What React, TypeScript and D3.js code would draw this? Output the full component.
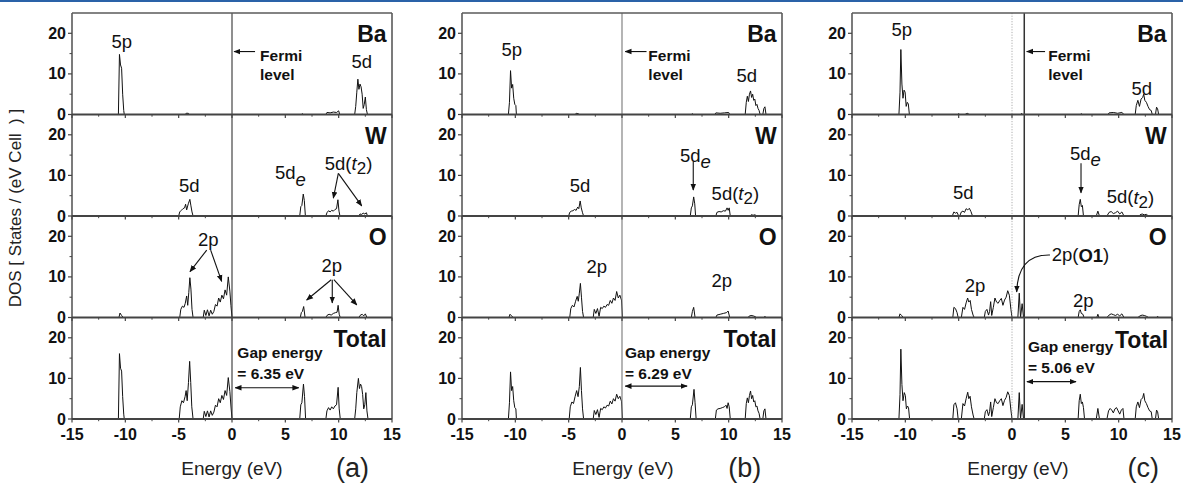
import React from 'react';
import * as d3 from 'd3';

// Energy (eV), DOS pairs. Panel (a)
const baA: [number, number][] = [
  [-15, 0], [-10.65, 0], [-10.55, 14.8], [-10.45, 12.2], [-10.35, 11.4], [-10.25, 5], [-10.15, 1], [-10.1, 0],
  [-4.4, 0], [-4.3, 0.3], [-4.1, 0.3], [-4.0, 0],
  [6.5, 0], [6.6, 0.2], [6.7, 0],
  [8.8, 0], [8.9, 0.5], [9.2, 0.4], [9.5, 0.6], [9.8, 0.5], [10.0, 0.9], [10.1, 0],
  [11.5, 0], [11.6, 2], [11.7, 5.5], [11.8, 8.7], [11.9, 6.2], [12.0, 7.5], [12.1, 6.8], [12.2, 5], [12.3, 1.5],
  [12.4, 2.5], [12.5, 4.3], [12.6, 1.2], [12.7, 0], [15, 0],
];
const wA: [number, number][] = [
  [-15, 0], [-5.0, 0], [-4.9, 1], [-4.75, 1.4], [-4.6, 1.8], [-4.45, 2.0], [-4.35, 2.9], [-4.25, 1.5], [-4.1, 3],
  [-3.95, 4.1], [-3.85, 2.5], [-3.75, 1], [-3.65, 0],
  [6.35, 0], [6.45, 2.3], [6.55, 2.6], [6.68, 5.4], [6.78, 3.8], [6.88, 0],
  [8.8, 0], [8.9, 0.8], [9.05, 1.3], [9.2, 1.0], [9.35, 1.4], [9.5, 1.2], [9.65, 1.6], [9.8, 1.8], [9.93, 4.0],
  [10.03, 1.2], [10.12, 0],
  [11.9, 0], [12.0, 0.5], [12.15, 0.4], [12.3, 0.7], [12.45, 0.5], [12.6, 0.8], [12.7, 0], [15, 0],
];
const oA: [number, number][] = [
  [-15, 0], [-10.6, 0], [-10.5, 1.1], [-10.35, 0.5], [-10.2, 0],
  [-4.9, 0], [-4.8, 2], [-4.65, 2.8], [-4.5, 2.5], [-4.38, 3.5], [-4.25, 5.3], [-4.15, 3], [-4.05, 6.2], [-3.95, 9.8],
  [-3.85, 7], [-3.75, 2], [-3.65, 0],
  [-2.7, 0], [-2.6, 1.8], [-2.45, 0.5], [-2.3, 1.9], [-2.15, 0.4], [-2.0, 1.8], [-1.85, 0.8], [-1.7, 1.5], [-1.55, 3.2],
  [-1.4, 2.8], [-1.25, 4.8], [-1.1, 3.8], [-0.95, 5.5], [-0.8, 4.6], [-0.65, 6.8], [-0.5, 5.5], [-0.35, 10],
  [-0.2, 6.5], [-0.1, 3], [0, 0],
  [6.4, 0], [6.5, 1.2], [6.6, 1.5], [6.72, 2.7], [6.85, 0],
  [8.8, 0], [8.9, 0.5], [9.1, 0.8], [9.3, 0.6], [9.5, 1], [9.7, 1.2], [9.85, 1.3], [9.95, 3], [10.05, 0.8], [10.15, 0],
  [11.9, 0], [12.0, 0.5], [12.2, 0.8], [12.35, 0.4], [12.5, 0.9], [12.65, 0], [15, 0],
];
const totalA: [number, number][] = [
  [-15, 0], [-10.65, 0], [-10.55, 16.1], [-10.45, 12.5], [-10.35, 11.8], [-10.25, 5.5], [-10.15, 1.2], [-10.1, 0],
  [-4.95, 0], [-4.85, 3], [-4.7, 4.5], [-4.55, 4], [-4.4, 5.5], [-4.3, 7], [-4.2, 4.5], [-4.08, 9], [-3.97, 14.2],
  [-3.87, 9], [-3.77, 3], [-3.65, 0],
  [-2.7, 0], [-2.6, 1.9], [-2.45, 0.6], [-2.3, 2], [-2.15, 0.5], [-2.0, 2], [-1.85, 0.9], [-1.7, 1.7], [-1.55, 3.4],
  [-1.4, 3], [-1.25, 5], [-1.1, 4], [-0.95, 5.8], [-0.8, 4.8], [-0.65, 7], [-0.5, 5.8], [-0.35, 10.2], [-0.2, 6.8],
  [-0.1, 3.2], [0, 0],
  [6.35, 0], [6.45, 3.5], [6.55, 4], [6.7, 8.6], [6.8, 5.5], [6.9, 0],
  [8.8, 0], [8.9, 2], [9.05, 2.8], [9.2, 2.2], [9.35, 3], [9.5, 2.5], [9.65, 3.2], [9.8, 3.5], [9.95, 7.8], [10.05, 2.5],
  [10.15, 0],
  [11.5, 0], [11.6, 2.5], [11.7, 6.5], [11.85, 10], [11.95, 7.5], [12.05, 8.6], [12.15, 8], [12.25, 6], [12.35, 2.5],
  [12.45, 3.5], [12.55, 6.5], [12.65, 2], [12.75, 0], [15, 0],
];

// Panel (b)
const baB: [number, number][] = [
  [-15, 0], [-10.65, 0], [-10.55, 3], [-10.45, 10.8], [-10.35, 6.5], [-10.25, 7.4], [-10.15, 4], [-10.05, 2.5],
  [-9.95, 2.2], [-9.9, 0],
  [-4.4, 0], [-4.3, 0.3], [-4.1, 0.2], [-4.0, 0],
  [6.5, 0], [6.6, 0.2], [6.7, 0],
  [8.7, 0], [8.8, 0.4], [9.2, 0.3], [9.6, 0.4], [10.0, 0.5], [10.1, 0],
  [11.55, 0], [11.65, 3], [11.75, 4.5], [11.85, 3.2], [11.95, 5], [12.05, 5.8], [12.15, 4.2], [12.25, 5], [12.35, 3.5],
  [12.45, 3.8], [12.55, 2.2], [12.65, 2.5], [12.75, 1.5], [12.85, 1], [12.95, 0],
  [13.2, 0], [13.3, 1.5], [13.4, 1.9], [13.5, 0], [15, 0],
];
const wB: [number, number][] = [
  [-15, 0], [-5.0, 0], [-4.9, 0.9], [-4.75, 1.2], [-4.6, 1.3], [-4.45, 1.6], [-4.3, 1.4], [-4.15, 2.2], [-4.05, 1.8],
  [-3.92, 3.7], [-3.82, 2], [-3.7, 0.8], [-3.6, 0],
  [6.4, 0], [6.5, 2], [6.6, 2.5], [6.72, 4.7], [6.82, 3], [6.9, 0],
  [8.8, 0], [8.9, 0.9], [9.1, 1.1], [9.3, 1], [9.5, 1.3], [9.7, 1.2], [9.85, 2], [9.95, 1.4], [10.05, 2], [10.15, 0],
  [12.0, 0], [12.1, 0.3], [12.3, 0.2], [12.5, 0.3], [12.6, 0], [15, 0],
];
const oB: [number, number][] = [
  [-15, 0], [-10.6, 0], [-10.5, 0.8], [-10.35, 0.4], [-10.2, 0],
  [-4.9, 0], [-4.8, 2.2], [-4.65, 3], [-4.5, 2.6], [-4.35, 4], [-4.2, 5.2], [-4.1, 4], [-4.0, 6], [-3.9, 8.4],
  [-3.8, 5], [-3.7, 1.5], [-3.6, 0],
  [-2.7, 0], [-2.6, 2], [-2.45, 1], [-2.3, 2.2], [-2.15, 0.3], [-2.0, 2.5], [-1.85, 2.2], [-1.7, 2.8], [-1.55, 2.5],
  [-1.4, 3.2], [-1.25, 3], [-1.1, 4.2], [-0.95, 3.5], [-0.8, 4.8], [-0.65, 4.2], [-0.5, 6.4], [-0.35, 4.8],
  [-0.2, 5.5], [-0.05, 4.3], [0.05, 0],
  [6.5, 0], [6.6, 1.5], [6.72, 2.5], [6.85, 0],
  [8.8, 0], [8.9, 0.6], [9.2, 0.8], [9.5, 1], [9.8, 1.2], [9.95, 1.6], [10.1, 0],
  [11.8, 0], [11.9, 0.3], [12.1, 0.5], [12.3, 0.4], [12.5, 0.2], [12.6, 0],
  [13.3, 0], [13.4, 0.3], [13.5, 0], [15, 0],
];
const totalB: [number, number][] = [
  [-15, 0], [-10.65, 0], [-10.55, 4], [-10.45, 11.6], [-10.35, 7], [-10.25, 8], [-10.15, 4.5], [-10.05, 2.8],
  [-9.95, 2.5], [-9.9, 0],
  [-4.95, 0], [-4.85, 3], [-4.7, 4.2], [-4.55, 3.8], [-4.4, 5.5], [-4.25, 7], [-4.12, 5.5], [-4.0, 8], [-3.9, 12.7],
  [-3.8, 7], [-3.7, 2.5], [-3.6, 0],
  [-2.7, 0], [-2.6, 2.1], [-2.45, 1.1], [-2.3, 2.3], [-2.15, 0.4], [-2.0, 2.6], [-1.85, 2.3], [-1.7, 3], [-1.55, 2.7],
  [-1.4, 3.4], [-1.25, 3.2], [-1.1, 4.4], [-0.95, 3.7], [-0.8, 5], [-0.65, 4.4], [-0.5, 6.1], [-0.35, 5],
  [-0.2, 5.6], [-0.05, 4.4], [0.05, 0],
  [6.4, 0], [6.5, 3], [6.6, 3.5], [6.75, 7.3], [6.85, 4], [6.95, 0],
  [8.75, 0], [8.85, 2.2], [9.0, 2.5], [9.2, 2.6], [9.4, 2.8], [9.6, 3], [9.75, 3.4], [9.85, 2.6], [9.95, 4], [10.05, 3],
  [10.15, 0],
  [11.55, 0], [11.65, 3.8], [11.75, 5.2], [11.85, 4], [11.95, 5.8], [12.05, 6.9], [12.15, 5], [12.25, 5.8],
  [12.35, 4.2], [12.45, 4.5], [12.55, 3], [12.65, 3.2], [12.75, 2], [12.85, 1.4], [12.95, 0],
  [13.2, 0], [13.3, 2], [13.4, 2.5], [13.5, 0], [15, 0],
];

// Panel (c)
const baC: [number, number][] = [
  [-15, 0], [-10.6, 0], [-10.5, 5.5], [-10.42, 16], [-10.32, 7.5], [-10.22, 4], [-10.12, 6], [-10.02, 5.5],
  [-9.92, 2], [-9.82, 3], [-9.72, 2.6], [-9.62, 0],
  [-5.1, 0], [-5.0, 0.2], [-4.9, 0],
  [-4.4, 0], [-4.2, 0.3], [-4.0, 0],
  [0.8, 0], [0.9, 0.3], [1.0, 0],
  [6.4, 0], [6.5, 0.2], [6.6, 0],
  [9.0, 0], [9.1, 0.4], [9.5, 0.5], [9.9, 0.3], [10.3, 0.5], [10.5, 0],
  [11.55, 0], [11.65, 2.2], [11.8, 3.5], [11.95, 2], [12.1, 3.8], [12.25, 4.2], [12.35, 5], [12.45, 3.5], [12.6, 3],
  [12.75, 2], [12.9, 1.2], [13.05, 1], [13.15, 0],
  [13.45, 0], [13.55, 1.8], [13.65, 1.4], [13.75, 0], [15, 0],
];
const wC: [number, number][] = [
  [-15, 0], [-5.6, 0], [-5.45, 1], [-5.3, 0.7], [-5.15, 0.9], [-5.0, 0],
  [-4.9, 0], [-4.75, 1], [-4.6, 1.2], [-4.45, 0.9], [-4.3, 1.8], [-4.15, 1.5], [-4.0, 1.9], [-3.85, 1.1], [-3.7, 0],
  [6.2, 0], [6.3, 2.8], [6.4, 4.1], [6.5, 2.3], [6.6, 2.6], [6.7, 0],
  [7.9, 0], [8.05, 1.2], [8.2, 0],
  [8.9, 0], [9.1, 0.9], [9.3, 1.1], [9.5, 0.6], [9.7, 0.8], [9.9, 1.2], [10.1, 0.5], [10.3, 1], [10.5, 0],
  [11.9, 0], [12.0, 0.3], [12.2, 0.5], [12.4, 0.3], [12.6, 0.4], [12.8, 0], [15, 0],
];
const oC: [number, number][] = [
  [-15, 0], [-10.6, 0], [-10.5, 0.9], [-10.35, 0.5], [-10.2, 0],
  [-5.55, 0], [-5.45, 2.5], [-5.3, 2.2], [-5.15, 1.2], [-5.05, 0],
  [-4.75, 0], [-4.6, 2.5], [-4.45, 2], [-4.3, 3.6], [-4.16, 4.8], [-4.05, 3.8], [-3.92, 4.2], [-3.8, 2], [-3.65, 0.6],
  [-3.55, 0],
  [-2.6, 0], [-2.5, 1.5], [-2.35, 2], [-2.2, 0.6], [-2.1, 1.5], [-2.0, 3.9], [-1.9, 0.5], [-1.75, 2.5], [-1.6, 4.8],
  [-1.45, 3.8], [-1.3, 3.5], [-1.15, 4.2], [-1.0, 4.7], [-0.85, 3], [-0.7, 4.3], [-0.55, 5], [-0.4, 6.6],
  [-0.25, 5.5], [-0.1, 2], [0.0, 0],
  [0.55, 0], [0.68, 6], [0.8, 0], [0.95, 3.4], [1.08, 0],
  [6.2, 0], [6.3, 1.5], [6.4, 1.9], [6.5, 1], [6.65, 0.8], [6.75, 0],
  [7.95, 0], [8.05, 0.8], [8.15, 0],
  [8.9, 0], [9.1, 0.6], [9.3, 0.9], [9.5, 0.7], [9.7, 0.5], [9.9, 0.8], [10.1, 0.4], [10.3, 0.9], [10.5, 0],
  [11.8, 0], [12.0, 0.4], [12.2, 0.6], [12.4, 0.5], [12.6, 0.3], [12.8, 0],
  [13.55, 0], [13.65, 0.3], [13.75, 0], [15, 0],
];
const totalC: [number, number][] = [
  [-15, 0], [-10.6, 0], [-10.5, 6], [-10.42, 17.2], [-10.32, 8.5], [-10.22, 4.5], [-10.1, 6.5], [-10.0, 5.8],
  [-9.9, 2.5], [-9.8, 3.2], [-9.7, 2.8], [-9.6, 0],
  [-5.55, 0], [-5.45, 3.5], [-5.3, 4], [-5.15, 2.5], [-5.05, 0],
  [-4.75, 0], [-4.6, 3.8], [-4.45, 3.2], [-4.3, 5], [-4.15, 6.6], [-4.05, 5], [-3.93, 5.6], [-3.8, 3], [-3.65, 1],
  [-3.55, 0],
  [-2.6, 0], [-2.5, 1.8], [-2.35, 2.3], [-2.2, 0.8], [-2.1, 1.8], [-2.0, 4.2], [-1.9, 0.6], [-1.75, 2.8], [-1.6, 5],
  [-1.45, 4], [-1.3, 3.8], [-1.15, 4.5], [-1.0, 5], [-0.85, 3.3], [-0.7, 4.6], [-0.55, 5.3], [-0.4, 6.7],
  [-0.25, 5.8], [-0.1, 2.2], [0.0, 0],
  [0.55, 0], [0.68, 6.5], [0.8, 0], [0.95, 3.6], [1.08, 0],
  [6.2, 0], [6.3, 4.5], [6.4, 6.1], [6.5, 3.8], [6.6, 4.2], [6.7, 2.8], [6.8, 0],
  [7.9, 0], [8.05, 2.6], [8.2, 0],
  [8.9, 0], [9.05, 2], [9.2, 2.6], [9.35, 2.2], [9.5, 1.5], [9.65, 2.5], [9.8, 2.8], [9.95, 2], [10.1, 1.2],
  [10.25, 2.2], [10.4, 2.6], [10.5, 0],
  [11.55, 0], [11.65, 3], [11.8, 4.2], [11.95, 2.8], [12.1, 4.8], [12.25, 5.2], [12.35, 6.3], [12.45, 4.5], [12.6, 3.8],
  [12.75, 2.8], [12.9, 2], [13.05, 1.8], [13.15, 0],
  [13.45, 0], [13.55, 2.2], [13.65, 1.8], [13.75, 0], [15, 0],
];

const rowNames = ['Ba', 'W', 'O', 'Total'];
const energyTicks = [-15, -10, -5, 0, 5, 10, 15];
const energyMinor = [-12.5, -7.5, -2.5, 2.5, 7.5, 12.5];
const dosTicks = [0, 10, 20];
const dosMinor = [5, 15];
const panelTags = ['(a)', '(b)', '(c)'];
const gapLabels = ['= 6.35 eV', '= 6.29 eV', '= 5.06 eV'];
const fermiLevels = [0, 0, 1.15];

type Lbl = { r: number; e: number; v: number; t: string; kind?: string };
type Arr = { r: number; e1: number; v1: number; e2: number; v2: number };

const labelsA: Lbl[] = [
  { r: 0, e: -10.34, v: 17.9, t: '5p' }, { r: 0, e: 12.16, v: 13, t: '5d' },
  { r: 1, e: -4.0, v: 7.6, t: '5d' }, { r: 1, e: 4.03, v: 10.6, t: '', kind: 'de' },
  { r: 1, e: 8.7, v: 13, t: '', kind: 'dt2' },
  { r: 2, e: -2.22, v: 19.1, t: '2p' }, { r: 2, e: 9.35, v: 12.9, t: '2p' },
];
const labelsB: Lbl[] = [
  { r: 0, e: -10.34, v: 15.9, t: '5p' }, { r: 0, e: 11.7, v: 9.7, t: '5d' },
  { r: 1, e: -3.94, v: 7.6, t: '5d' }, { r: 1, e: 5.44, v: 15, t: '', kind: 'de' },
  { r: 1, e: 8.4, v: 5.6, t: '', kind: 'dt2' },
  { r: 2, e: -2.37, v: 12.5, t: '2p' }, { r: 2, e: 9.35, v: 9.2, t: '2p' },
];
const labelsC: Lbl[] = [
  { r: 0, e: -10.34, v: 21, t: '5p' }, { r: 0, e: 12.16, v: 6.5, t: '5d' },
  { r: 1, e: -4.57, v: 5.7, t: '5d' }, { r: 1, e: 5.44, v: 15.5, t: '', kind: 'de' },
  { r: 1, e: 8.88, v: 4.75, t: '', kind: 'dt2' },
  { r: 2, e: 3.72, v: 15.4, t: '', kind: 'o1' },
  { r: 2, e: -3.47, v: 8.0, t: '2p' }, { r: 2, e: 6.68, v: 4.3, t: '2p' },
];
const arrowsA: Arr[] = [
  { r: 1, e1: 9.97, v1: 10.5, e2: 9.5, v2: 4.4 }, { r: 1, e1: 9.97, v1: 10.5, e2: 12.16, v2: 2.5 },
  { r: 2, e1: -2.37, v1: 16.6, e2: -3.94, v2: 11.3 }, { r: 2, e1: -2.0, v1: 16.6, e2: -0.97, v2: 8.9 },
  { r: 2, e1: 9.3, v1: 9.3, e2: 7.0, v2: 4.3 }, { r: 2, e1: 9.4, v1: 9.3, e2: 9.4, v2: 3.6 },
  { r: 2, e1: 9.55, v1: 9.3, e2: 11.7, v2: 3.1 },
];
const arrowsB: Arr[] = [{ r: 1, e1: 6.68, v1: 13.4, e2: 6.68, v2: 6.4 }];
const arrowsC: Arr[] = [{ r: 1, e1: 6.47, v1: 13, e2: 6.47, v2: 5.7 }];

const panels = [
  { rows: [baA, wA, oA, totalA], labels: labelsA, arrows: arrowsA, fermiText: 2.63, fermiArrow: [2.16, 0.2], gap: [0.5, 0.3, 6.25, 16.3, 11.3, 7.7], titleDx: 0, tagE: 11.3 },
  { rows: [baB, wB, oB, totalB], labels: labelsB, arrows: arrowsB, fermiText: 2.47, fermiArrow: [2.3, 0.3], gap: [0.28, 0.3, 6.1, 16.5, 11.3, 8.1], titleDx: 1, tagE: 11.5 },
  { rows: [baC, wC, oC, totalC], labels: labelsC, arrows: arrowsC, fermiText: 3.4, fermiArrow: [3.1, 1.38], gap: [1.5, 1.4, 6.0, 17.8, 12.6, 9.2], titleDx: 6, tagE: 12.3 },
];

const W = 1183;
const H = 484;
const panelLeft = [72, 462, 852];
const plotW = 320;
const top = 13;
const rowH = 101.5;
const font = "'Liberation Sans', Arial, Helvetica, sans-serif";
const frame = '#5a5a5a';

const Panel = ({ p, idx }: { p: any; idx: number }) => {
  const left = panelLeft[idx];
  const x = d3.scaleLinear().domain([-15, 15]).range([left, left + plotW]);
  const ys = rowNames.map((_, r) =>
    d3.scaleLinear().domain([0, 25]).range([top + (r + 1) * rowH, top + r * rowH]));
  const bottom = top + 4 * rowH;
  const clipId = `clip${idx}`;

  const fermi = fermiLevels[idx];
  const [gx, ga1, ga2, gv1, gv2, gva] = p.gap;

  const renderLabel = (l: Lbl, i: number) => {
    const y = ys[l.r];
    const base = { fontFamily: font, fontSize: 18.5, fill: '#111' } as any;
    if (l.kind === 'de') {
      return (
        <text key={i} x={x(l.e)} y={y(l.v)} dominantBaseline="central" {...base}>
          5d<tspan fontStyle="italic" dy={6}>e</tspan>
        </text>
      );
    }
    if (l.kind === 'dt2') {
      return (
        <text key={i} x={x(l.e)} y={y(l.v)} dominantBaseline="central" {...base}>
          5d(<tspan fontStyle="italic">t</tspan><tspan dy={5} fontSize={17}>2</tspan><tspan dy={-5}>)</tspan>
        </text>
      );
    }
    if (l.kind === 'o1') {
      return (
        <text key={i} x={x(l.e)} y={y(l.v)} dominantBaseline="central" {...base}>
          2p(<tspan fontWeight="bold">O1</tspan>)
        </text>
      );
    }
    return (
      <text key={i} x={x(l.e)} y={y(l.v)} textAnchor="middle" dominantBaseline="central" {...base}>{l.t}</text>
    );
  };

  return (
    <g>
      <defs>
        <clipPath id={clipId}>
          <rect x={left} y={top} width={plotW} height={bottom - top} />
        </clipPath>
      </defs>

      {/* DOS curves */}
      <g clipPath={`url(#${clipId})`}>
        {p.rows.map((data: [number, number][], r: number) => {
          const line = d3.line<[number, number]>().x(d => x(d[0])).y(d => ys[r](d[1]));
          return <path key={r} d={line(data) || ''} fill="none" stroke="#111" strokeWidth={1} strokeLinejoin="round" />;
        })}
      </g>

      {/* Fermi level */}
      {idx === 2 && (
        <line x1={x(0)} x2={x(0)} y1={top} y2={bottom} stroke="#999" strokeWidth={0.8} strokeDasharray="1.2,1.5" />
      )}
      <line x1={x(fermi)} x2={x(fermi)} y1={top} y2={bottom} stroke={idx === 1 ? '#777' : '#333'} strokeWidth={idx === 2 ? 1.5 : 1.1} />

      {/* frame */}
      <line x1={left} x2={left} y1={top} y2={bottom} stroke={frame} strokeWidth={1.6} />
      <line x1={left + plotW} x2={left + plotW} y1={top} y2={bottom} stroke={frame} strokeWidth={1.6} />
      <line x1={left} x2={left + plotW} y1={top} y2={top} stroke={frame} strokeWidth={1.3} />

      {rowNames.map((name, r) => {
        const y = ys[r];
        return (
          <g key={name}>
            <line x1={left} x2={left + plotW} y1={y(0)} y2={y(0)} stroke="#444" strokeWidth={1.9} />
            {energyTicks.map(t => (
              <line key={t} x1={x(t)} x2={x(t)} y1={y(0)} y2={y(0) + 3.5} stroke="#444" strokeWidth={1.2} />
            ))}
            {energyMinor.map(t => (
              <line key={t} x1={x(t)} x2={x(t)} y1={y(0)} y2={y(0) + 2.2} stroke="#444" strokeWidth={1} />
            ))}
            {dosTicks.map(t => (
              <g key={t}>
                <line x1={left - 4} x2={left} y1={y(t)} y2={y(t)} stroke="#444" strokeWidth={1.2} />
                <text x={left - 6} y={y(t)} textAnchor="end" dominantBaseline="central" fontFamily={font}
                  fontWeight="bold" fontSize={16} fill="#111">{t}</text>
              </g>
            ))}
            {dosMinor.map(t => (
              <line key={t} x1={left - 2.5} x2={left} y1={y(t)} y2={y(t)} stroke="#444" strokeWidth={1} />
            ))}
            <text x={idx === 2 && r === 3 ? x(14.65) : x(14.5)} y={y(r === 3 && idx === 2 ? 19.5 : 19.8)}
              textAnchor="end" dominantBaseline="central" fontFamily={font} fontWeight="bold" fontSize={23} fill="#111">{name}</text>
          </g>
        );
      })}

      {/* x tick labels */}
      {energyTicks.map(t => (
        <text key={t} x={x(t)} y={bottom + 15} textAnchor="middle" dominantBaseline="central" fontFamily={font}
          fontWeight="bold" fontSize={16} fill="#111">{t}</text>
      ))}
      <text x={x(0) + p.titleDx} y={468} textAnchor="middle" dominantBaseline="central" fontFamily={font}
        fontSize={19} fill="#222">Energy (eV)</text>
      <text x={x(p.tagE)} y={468} textAnchor="middle" dominantBaseline="central" fontFamily={font}
        fontSize={27} fill="#222">{panelTags[idx]}</text>

      {/* Fermi annotation */}
      <line x1={x(p.fermiArrow[0])} x2={x(p.fermiArrow[1])} y1={ys[0](15.5)} y2={ys[0](15.5)} stroke="#111"
        strokeWidth={1.1} markerEnd="url(#ah)" />
      <text x={x(p.fermiText)} y={ys[0](14.6)} dominantBaseline="central" fontFamily={font} fontWeight="bold"
        fontSize={15.5} fill="#111">Fermi</text>
      <text x={x(p.fermiText)} y={ys[0](9.8)} dominantBaseline="central" fontFamily={font} fontWeight="bold"
        fontSize={15.5} fill="#111">level</text>

      {/* gap annotation */}
      <text x={x(gx)} y={ys[3](gv1)} dominantBaseline="central" fontFamily={font} fontWeight="bold"
        fontSize={15.5} fill="#111">Gap energy</text>
      <text x={x(gx)} y={ys[3](gv2)} dominantBaseline="central" fontFamily={font} fontWeight="bold"
        fontSize={15.5} fill="#111">{gapLabels[idx]}</text>
      <line x1={x(ga1)} x2={x(ga2)} y1={ys[3](gva)} y2={ys[3](gva)} stroke="#111" strokeWidth={1.2}
        markerStart="url(#ah)" markerEnd="url(#ah)" />

      {/* peak labels and arrows */}
      {p.labels.map(renderLabel)}
      {p.arrows.map((a: Arr, i: number) => (
        <line key={i} x1={x(a.e1)} y1={ys[a.r](a.v1)} x2={x(a.e2)} y2={ys[a.r](a.v2)} stroke="#111"
          strokeWidth={1.1} markerEnd="url(#ah)" />
      ))}
      {idx === 2 && (
        <path
          d={`M${x(3.56)},${ys[2](15.4)} Q${x(0.55)},${ys[2](15.6)} ${x(0.44)},${ys[2](6.3)}`}
          fill="none" stroke="#111" strokeWidth={1.1} markerEnd="url(#ah)" />
      )}
    </g>
  );
};

export default function App() {
  return (
    <svg width={W} height={H} style={{ position: 'absolute', left: 0, top: 0, background: '#fff' }}>
      <defs>
        <marker id="ah" viewBox="0 0 10 10" refX="9" refY="5" markerWidth="7" markerHeight="7"
          markerUnits="userSpaceOnUse" orient="auto-start-reverse">
          <path d="M0,1 L10,5 L0,9 z" fill="#111" />
        </marker>
      </defs>
      <rect x={0} y={0} width={W} height={H} fill="#fff" />
      <rect x={0} y={0} width={W} height={2} fill="#2a62a8" />
      <text transform={`translate(15, 208) rotate(-90)`} textAnchor="middle" dominantBaseline="central"
        fontFamily={font} fontSize={17} fill="#222" style={{ whiteSpace: 'pre' }}>
        {'DOS [ States / (eV Cell  ) ]'}
      </text>
      {panels.map((p, i) => <Panel key={i} p={p} idx={i} />)}
    </svg>
  );
}
